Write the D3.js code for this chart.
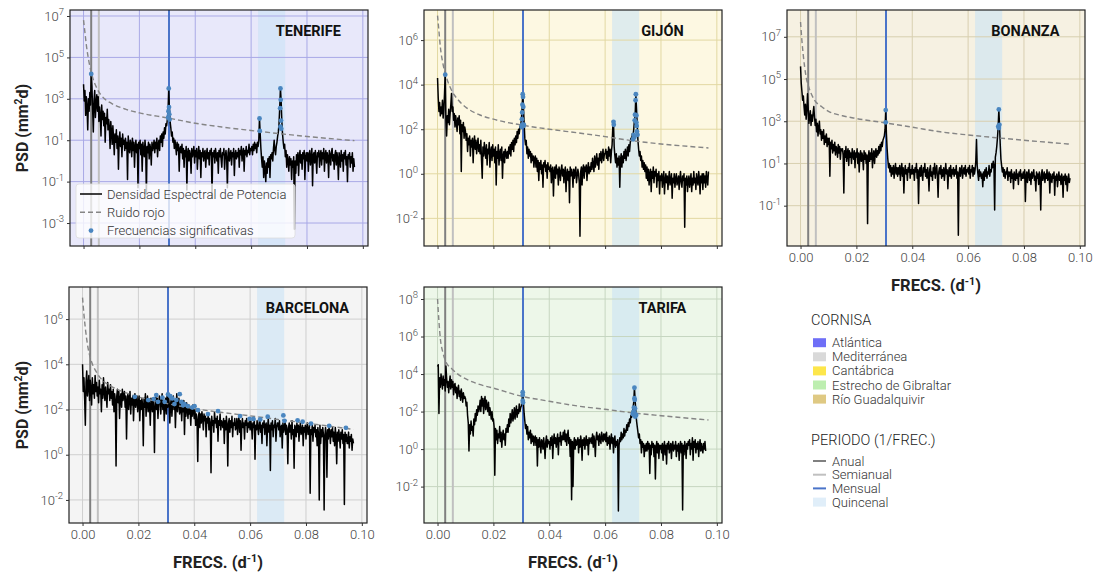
<!DOCTYPE html>
<meta charset="utf-8" />
<head>
  <script src="https://cdn.jsdelivr.net/npm/d3@7/dist/d3.min.js"></script>
  <title>PSD cornisas</title>
  <style>
    body {
      margin: 0;
      background: #fff;
    }
    svg text {
      font-family: Roboto, "Noto Sans", sans-serif;
    }
    .axis .domain {
      display: none;
    }
    .axis .tick line {
      stroke: #333;
    }
    .axis .tick text {
      font-size: 13px;
      font-weight: 300;
      fill: #444;
    }
  </style>
</head>
<body>
  <svg id="chart" width="1096" height="576"></svg>
</body>

<script>
  // frequency grid of the periodograms (d^-1)
  const freqStep = 0.00025;
  const xTicks = [0, 0.02, 0.04, 0.06, 0.08, 0.1];

  // reference periods, as frequencies
  const anual = 1 / 365.25;
  const semianual = 1 / 182.6;
  const mensual = 0.0306;
  const quincenal = [0.0625, 0.0722];

  // log10(PSD), one value per freqStep (20 per row = 0.005 d^-1)
  const psdTenerife = [
    3.7, 2.9, 3.4, 2.2, 3.1, 2.6, 1.5, 3.0, 2.4, 3.3, 2.7, 4.2, 3.6, 2.5, 1.4, 2.9, 3.4, 2.1, 2.8, 3.2,
    2.4, 3.1, 1.9, 2.6, 2.2, 1.2, 2.7, 2.0, 2.4, 1.7, 2.3, 0.9, 2.1, 1.8, 2.5, 1.5, 2.0, 1.6, 0.6, 1.9,
    1.4, 0.8, 1.7, 1.1, 0.3, 1.3, 0.9, 1.5, 0.6, 1.2, -0.4, 1.0, 1.4, 0.7, 1.1, 0.2, 1.3, 0.8, 1.0, 0.5,
    1.1, 0.6, 0.9, -0.9, 1.2, 0.7, 0.4, 1.0, 0.8, 0.2, 1.1, 0.5, 0.9, -0.3, 0.7, 1.0, 0.4, 0.8, -1.3, 0.9,
    0.6, 1.0, 0.3, 0.8, -0.5, 0.9, 0.5, 0.2, 1.0, 0.6, -1.6, 0.7, 0.4, 0.9, 0.1, 0.8, 0.6, -0.2, 0.9, 0.5,
    0.7, 1.0, 0.4, 0.9, 0.6, 1.1, 0.2, 0.8, 1.0, 0.5, 1.2, 0.9, 1.3, 0.7, 1.4, 1.1, 1.6, 1.3, 1.8, 1.7,
    2.0, 2.4, 3.5, 2.5, 1.9, 1.6, 1.2, 1.4, 0.9, 1.1, 0.6, 1.0, 0.7, 0.3, 0.9, 0.5, 0.8, -0.5, 0.6, 0.7,
    0.4, 0.8, 0.1, 0.6, -0.3, 0.5, 0.2, 0.7, -1.4, 0.4, 0.6, 0.0, 0.5, 0.3, -0.6, 0.6, 0.2, 0.4, 0.7, -0.1,
    0.5, 0.2, 0.6, -0.4, 0.3, 0.7, 0.1, 0.5, -0.8, 0.4, 0.2, 0.6, 0.0, 0.4, 0.5, -0.3, 0.3, 0.6, 0.1, 0.4,
    -0.2, 0.5, 0.3, 0.6, -1.8, 0.4, 0.2, 0.5, -0.1, 0.6, 0.3, 0.0, 0.4, -0.6, 0.5, 0.2, 0.6, 0.1, -0.3, 0.4,
    0.3, 0.6, -0.4, 0.2, 0.5, 0.1, -1.3, 0.4, 0.6, 0.0, 0.3, 0.5, -0.2, 0.4, 0.2, 0.6, -0.7, 0.3, 0.5, 0.1,
    0.4, 0.2, 0.6, -0.3, 0.5, 0.3, 0.7, 0.0, 0.4, 0.6, -0.5, 0.5, 0.3, 0.7, 0.2, 0.5, 0.4, 0.8, 0.3, 0.6,
    0.5, 0.7, 0.3, 0.8, 0.5, 0.9, 0.6, 0.8, 0.4, 0.9, 0.7, 1.0, 2.05, 1.3, 0.6, 0.1, -0.3, 0.2, -0.8, 0.0,
    -0.4, -1.0, -0.1, -0.6, 0.1, -0.3, 0.2, -0.8, 0.3, 0.1, 0.4, 0.0, 0.6, 1.0, 0.5, 0.3, 0.7, 0.9, 1.2, 1.4,
    1.8, 2.6, 3.5, 2.9, 1.9, 1.3, 0.9, 0.6, 0.8, 0.2, 0.5, -0.3, 0.3, 0.0, -0.5, 0.2, -0.2, 0.1, -0.9, 0.0,
    -0.3, 0.2, -3.3, 0.0, -0.6, 0.3, -0.2, 0.4, -0.7, 0.2, 0.5, -0.1, 0.3, -0.4, 0.4, 0.1, 0.5, -0.9, 0.2, 0.4,
    0.0, 0.4, -0.5, 0.3, 0.5, -0.2, 0.2, 0.6, -1.2, 0.3, 0.4, -0.1, 0.5, 0.1, -0.6, 0.4, 0.2, 0.5, -0.3, 0.3,
    0.5, -0.2, 0.4, 0.1, 0.6, -0.5, 0.3, 0.5, -0.1, 0.4, 0.2, -0.8, 0.5, 0.3, -0.2, 0.4, 0.6, 0.0, 0.3, -0.4,
    0.3, 0.5, -0.2, 0.4, 0.1, -0.9, 0.4, 0.2, -0.3, 0.5, 0.0, 0.3, -0.5, 0.4, 0.1, 0.5, -0.2, 0.2, -1.0, 0.3,
    0.1, 0.4, -0.3, 0.2, -0.1, 0.4, -0.5, 0.1, -0.3,
  ];
  const psdGijon = [
    4.3, 3.4, 2.8, 3.2, 2.6, 3.0, 2.7, 3.3, 2.5, 2.9, 3.6, 4.45, 2.4, 1.7, 2.6, 2.3, 2.9, 2.2, 2.7, 3.1,
    3.6, 2.8, 3.0, 2.4, 2.7, 2.1, 2.6, 2.3, 1.9, 2.5, 2.2, 2.6, 1.8, 2.4, 0.1, 2.2, 1.9, 2.3, 1.6, 2.1,
    1.9, 1.5, 1.8, 1.0, 1.6, 1.3, 1.7, 0.8, 1.5, 1.2, 1.6, 0.5, 1.4, 1.7, 1.1, 1.5, 0.9, 1.3, 1.6, 1.0,
    1.3, 0.9, 1.5, 0.6, -0.2, 1.2, 0.8, 1.4, 1.0, 0.7, 1.3, 0.4, 1.1, 0.9, 1.4, 0.3, 1.0, 1.2, 0.6, 1.3,
    0.8, 1.1, 0.5, 1.2, -0.5, 1.0, 0.7, 1.3, 0.4, 0.9, 1.1, 0.6, 1.2, -0.2, 0.8, 1.0, 0.5, 1.1, 0.9, 0.7,
    1.0, 0.7, 1.2, 0.9, 1.3, 0.8, 1.4, 1.1, 1.5, 1.0, 1.6, 1.3, 1.7, 1.4, 1.9, 1.6, 2.0, 1.8, 2.1, 2.2,
    2.4, 2.9, 3.57, 3.0, 2.3, 1.6, 1.3, 1.5, 0.9, 1.2, 0.7, 1.1, 0.8, 1.0, 0.5, 0.9, 0.6, 0.8, 0.3, 0.7,
    0.8, 0.3, 0.7, 0.1, 0.6, -0.3, 0.5, 0.2, 0.6, 0.0, 0.4, -0.6, 0.5, 0.3, 0.6, 0.1, 0.4, -0.2, 0.5, 0.2,
    0.3, 0.1, 0.4, -0.4, 0.2, 0.3, -1.0, 0.1, 0.3, -0.2, 0.4, 0.0, 0.2, -0.5, 0.3, 0.1, -0.3, 0.2, 0.4, -0.1,
    0.2, -0.4, 0.1, 0.3, -0.8, 0.0, 0.2, -0.3, 0.1, -1.3, 0.3, -0.1, 0.2, 0.0, -0.6, 0.2, -0.2, 0.1, 0.3, -0.4,
    -0.1, 0.2, 0.0, -0.4, -2.8, 0.1, 0.3, -0.5, 0.2, 0.4, -0.2, 0.3, 0.1, 0.4, -0.3, 0.2, 0.5, 0.0, 0.3, 0.1,
    0.5, 0.2, 0.7, 0.4, 0.1, 0.8, 0.3, 0.6, 0.9, 0.4, 0.7, 0.2, 0.9, 0.6, 1.0, 0.5, 0.8, 1.1, 0.6, 0.9,
    0.9, 1.1, 0.7, 1.0, 0.6, 1.2, 0.8, 1.1, 0.5, 1.0, 1.3, 2.1, 2.33, 1.2, 0.8, 0.5, 0.9, 0.3, 0.7, 0.4,
    0.8, -0.6, 0.6, 0.9, 0.3, 0.8, 0.5, 1.0, 0.7, 1.1, 0.6, 0.9, 1.2, 0.8, 1.3, 1.0, 1.4, 1.6, 1.5, 1.8,
    1.7, 2.0, 2.4, 2.6, 3.57, 2.9, 2.2, 1.5, 1.1, 0.8, 1.0, 0.6, 0.8, 0.3, 0.6, 0.2, 0.5, 0.1, 0.4, -0.2,
    0.3, -0.3, 0.2, -0.5, 0.0, 0.2, -0.8, 0.1, -0.2, 0.3, -0.4, 0.1, -0.1, 0.2, -0.6, 0.0, -0.3, 0.1, -0.9, -0.1,
    -0.3, 0.0, -0.6, -0.2, 0.1, -0.9, -0.3, 0.0, -0.4, -0.1, -0.7, -0.2, 0.1, -0.5, -0.3, 0.0, -1.1, -0.2, -0.4, 0.0,
    -0.6, -0.2, 0.0, -0.5, -0.3, -0.1, -0.7, -0.2, 0.1, -0.4, -0.6, -0.1, -0.3, 0.0, -2.4, -0.2, -0.5, -0.1, -0.8, -0.3,
    -0.1, -0.6, -0.3, 0.0, -0.8, -0.2, -0.5, 0.1, -0.4, -0.2, -0.7, 0.0, -0.3, -0.5, 0.1, -0.2, -0.9, -0.1, -0.4, 0.0,
    -0.7, 0.0, -0.4, -0.1, -0.6, 0.1, -0.3, -0.5, 0.1,
  ];
  const psdBonanza = [
    5.6, 4.8, 4.4, 4.0, 4.2, 3.7, 3.3, 3.8, 3.1, 3.5, 4.3, 3.6, 2.9, 3.2, 3.5, 2.8, 3.3, 3.0, 3.4, 3.7,
    3.2, 2.8, 3.1, 2.5, 2.9, 2.3, 2.7, 3.0, 2.4, 2.6, 2.1, 2.5, 2.2, 2.6, 1.9, 2.3, 2.0, 2.4, 1.8, 2.2,
    1.9, 2.2, 0.4, 2.0, 1.7, 2.1, 1.5, 1.9, 1.6, 2.0, 1.4, 1.8, 1.7, 1.3, 1.9, 1.5, 1.8, 1.2, 1.7, 1.6,
    1.7, 1.4, -0.4, 1.6, 1.3, 1.8, 1.1, 1.5, 1.7, 0.9, 1.6, 1.3, 1.5, 1.0, 1.7, 1.4, 1.2, 1.6, 0.8, 1.5,
    1.3, 1.7, 1.0, 1.5, 0.6, 1.4, 1.6, 1.1, 1.5, 1.3, 0.7, 1.6, 1.2, 1.5, 1.0, 1.4, -1.85, 1.3, 1.6, 1.1,
    1.5, 1.2, 1.7, 0.8, 1.4, 1.6, 1.0, 1.5, 1.7, 1.3, 1.6, 1.4, 1.8, 1.5, 1.9, 1.6, 2.0, 1.8, 2.1, 2.2,
    2.3, 2.6, 3.53, 2.4, 1.7, 1.2, 0.8, 1.0, 0.6, 0.9, 0.4, 0.8, 0.5, 0.9, 0.3, 0.7, 1.0, 0.5, 0.8, 0.4,
    0.8, 0.5, 0.9, 0.2, 0.7, 1.0, 0.4, 0.8, -0.4, 0.6, 0.9, 0.5, 0.7, 0.2, 0.8, 0.6, 1.0, 0.3, 0.7, 0.5,
    0.9, 0.5, 0.7, 0.2, 0.8, 0.6, 1.0, 0.3, 0.7, -0.9, 0.6, 0.8, 0.4, 0.9, 0.5, 0.2, 0.8, 0.6, 1.0, 0.4,
    0.7, 0.3, 0.8, 0.5, -0.3, 0.7, 0.9, 0.4, 0.6, 0.2, 0.8, 0.5, 1.0, 0.3, 0.7, 0.9, 0.4, -0.6, 0.6, 0.8,
    0.5, 0.9, 0.3, 0.7, 0.4, 0.8, 0.2, 0.6, 1.0, 0.5, 0.7, -0.2, 0.6, 0.8, 0.4, 0.9, 0.3, 0.7, 0.5, 0.8,
    0.4, 0.7, 0.5, 0.9, 0.3, 0.6, -2.4, 0.5, 0.8, 0.4, 0.7, 0.9, 0.3, 0.6, 0.8, 0.5, 0.9, 0.4, 0.7, 0.6,
    0.8, 0.5, 0.9, 0.3, 0.7, 0.6, 0.9, 0.4, 0.8, 0.5, 0.7, 1.1, 2.13, 0.9, 0.5, 0.2, 0.7, 0.4, 0.6, 0.3,
    0.5, -0.1, 0.6, 0.2, 0.7, 0.4, 0.8, 0.3, 0.6, 0.5, 0.9, 0.4, 0.7, 0.6, 1.0, 0.8, 1.1, 0.9, -1.2, 1.3,
    1.5, 1.8, 2.2, 2.7, 3.56, 2.8, 1.9, 1.2, 0.9, 0.6, 0.8, 0.4, 0.7, 0.3, 0.6, 0.5, 0.8, 0.2, 0.6, 0.4,
    0.6, 0.1, 0.7, 0.3, 0.5, -0.2, 0.6, 0.4, 0.2, 0.7, 0.3, 0.5, 0.0, 0.6, 0.4, 0.7, 0.2, 0.5, 0.3, 0.6,
    0.3, 0.7, -0.8, 0.4, 0.6, 0.1, 0.5, 0.7, 0.2, 0.5, 0.0, 0.6, 0.3, 0.5, 0.7, 0.2, 0.4, -0.3, 0.6, 0.3,
    0.5, 0.0, 0.6, 0.3, -1.2, 0.5, 0.7, 0.2, 0.4, 0.6, 0.1, 0.5, 0.3, 0.7, 0.2, 0.4, 0.6, -0.4, 0.5, 0.3,
    0.1, 0.5, 0.3, 0.6, -0.5, 0.4, 0.2, 0.5, -0.1, 0.3, 0.6, 0.2, 0.4, 0.0, 0.5, 0.3, -0.6, 0.4, 0.2, 0.5,
    0.0, 0.4, -0.3, 0.2, 0.5, 0.1, 0.3,
  ];
  const psdBarcelona = [
    4.0, 2.8, 3.4, 2.5, 1.3, 3.2, 3.7, 2.6, 3.0, 3.5, 2.4, 3.3, 2.9, 2.2, 3.4, 2.7, 3.1, 2.5, 3.5, 2.8,
    3.2, 2.6, 3.0, 2.3, 3.3, 2.7, 2.9, 1.9, 3.1, 2.5, 3.4, 2.8, 2.4, 3.0, 2.6, 2.1, 3.2, 2.7, 2.9, 2.4,
    3.1, 2.5, 2.8, 2.2, 2.9, 1.9, 2.7, 2.4, -0.5, 2.6, 2.9, 2.3, 2.8, 1.6, 2.5, 2.7, 2.1, 2.9, 2.4, 2.6,
    2.8, 2.1, 2.6, 0.7, 2.4, 2.7, 2.0, 2.5, 2.8, 1.8, 2.5, 2.2, 2.6, 1.5, 2.4, 2.7, 2.1, 2.3, 2.6, 1.9,
    2.3, 2.6, 1.5, 2.4, 2.0, 2.5, 2.2, 0.4, 2.5, 2.1, 2.7, 1.7, 2.3, 2.6, 1.9, 2.4, 2.2, 1.3, 2.5, 2.3,
    1.9, 2.4, 2.1, 0.1, 2.3, 2.6, 2.0, 2.5, 1.6, 2.2, 2.6, 2.4, 1.8, 2.3, 2.7, 2.0, 2.4, 1.5, 2.2, 2.5,
    1.8, 2.6, 2.1, 2.7, 2.3, 1.4, 2.2, 2.5, 1.7, 2.3, 2.6, 2.0, 2.4, 1.2, 2.2, 2.7, 1.9, 2.3, 2.5, 1.8,
    2.0, 2.3, 1.5, 2.2, 1.9, 2.4, 0.9, 2.1, 1.7, 2.3, 2.0, 1.6, 2.2, 1.8, 2.1, 1.3, 2.0, 1.7, 2.2, 1.9,
    1.6, 2.0, 1.3, 1.8, 1.5, -0.3, 1.7, 1.9, 1.2, 1.8, 1.4, 1.9, 1.6, 1.1, 1.8, 1.5, 1.7, 0.8, 1.6, 1.4,
    1.8, 1.1, 1.6, 1.4, -0.8, 1.7, 1.3, 1.5, 1.0, 1.9, 1.4, 1.6, 1.2, 1.7, 0.6, 1.5, 1.3, 1.8, 1.1, 1.5,
    1.4, 1.2, 1.6, 0.5, 1.5, 1.1, 1.7, 1.3, -0.5, 1.4, 1.6, 1.0, 1.5, 1.2, 1.7, 0.8, 1.4, 1.3, 1.6, 1.1,
    1.2, 1.6, 0.9, 1.4, 1.7, 1.0, 1.5, 0.2, 1.3, 1.6, 1.2, 1.4, 0.7, 1.5, 1.3, 1.6, 1.0, 1.4, 1.2, 1.5,
    1.1, 1.5, 1.3, 0.7, 1.4, 1.2, 1.6, -0.2, 1.3, 1.1, 1.5, 1.2, 0.9, 1.4, 1.6, 1.0, 1.3, 0.5, 1.4, 1.2,
    1.5, 0.9, 1.3, 1.4, 0.4, 1.2, 1.6, 1.0, 1.3, -0.7, 1.4, 1.1, 1.5, 0.8, 1.3, 1.2, 1.6, 0.6, 1.2, 1.4,
    1.4, 1.1, 1.5, 0.8, 1.2, 1.3, 0.3, 1.4, 1.0, 1.2, 1.5, 0.9, 1.3, 1.1, -0.4, 1.2, 1.4, 1.0, 1.3, 0.7,
    1.5, 0.9, 1.1, -0.6, 1.3, 1.2, 0.8, 1.4, 1.0, 1.3, 0.6, 1.2, 1.4, 0.9, 1.1, 1.3, 0.4, 1.2, 1.0, 1.3,
    0.7, 1.2, 1.4, 0.9, 1.1, 1.3, -1.7, 1.1, 0.9, 1.3, 0.6, 1.2, 1.0, 1.3, 0.8, 1.1, 0.4, 1.2, 0.9, -2.0,
    1.3, 0.5, 1.1, 0.8, 1.2, 0.9, -2.45, 0.8, 1.2, 0.9, -1.0, 1.1, 0.7, 1.2, 1.0, 0.5, 1.1, 0.8, 1.2, 0.6,
    1.0, 0.4, 1.2, 0.8, -0.4, 1.0, 0.6, 1.1, 0.8, 0.3, 1.0, 0.7, 1.1, 0.5, 0.9, -2.2, 1.0, 0.6, 0.9, 0.5,
    0.5, 1.0, 0.3, 0.8, 0.6, 0.9, 0.2, 0.7, 0.5,
  ];
  const psdTarifa = [
    4.4, 4.5, 1.9, 3.8, 3.3, 4.0, 3.6, 3.2, 3.9, 3.4, 3.7, 3.1, 4.43, 3.8, 3.3, 3.6, 3.0, 3.5, 3.9, 3.2,
    3.7, 3.3, 3.6, 2.9, 3.4, 3.5, 3.0, 3.3, 2.7, 3.2, 3.4, 2.8, 3.1, 2.6, 3.2, 2.9, 2.5, 3.0, 2.7, 2.8,
    2.7, 2.3, 2.5, 1.8, 1.4, -0.1, 1.3, 0.8, 1.5, 1.0, 1.2, 0.7, 1.6, 1.3, 1.9, 1.5, 2.1, 1.8, 2.3, 2.0,
    2.2, 2.6, 2.0, 2.8, 2.3, 2.7, 1.9, 2.5, 2.8, 2.1, 2.6, 2.3, 2.0, 2.5, 1.8, 2.2, 1.9, 1.6, 2.0, 1.5,
    1.6, 1.2, -1.4, 1.1, 0.5, 1.0, 0.3, 0.8, 0.6, 1.2, 0.4, 0.9, 0.1, 0.7, 1.0, 0.5, 0.8, 0.2, 1.1, 0.9,
    1.3, 0.9, 1.6, 1.2, 1.9, 1.4, 1.7, 2.1, 1.5, 1.8, 2.2, 1.6, 2.0, 2.3, 1.7, 2.1, 1.9, 2.4, 2.0, 2.2,
    2.3, 2.6, 3.0, 2.5, 1.9, 1.5, 1.1, 1.3, 0.8, 1.2, 0.5, 0.9, 0.6, 1.0, 0.3, 0.8, 0.4, 0.7, 0.2, 0.6,
    0.7, 0.2, 0.6, -0.9, 0.5, 0.1, 0.6, 0.3, -0.2, 0.5, 0.4, 0.0, 0.6, 0.2, -0.5, 0.4, 0.7, 0.1, 0.5, 0.3,
    0.4, 0.0, 0.6, 0.2, 0.7, -0.5, 0.4, 0.8, 0.3, 0.6, 0.1, 0.5, 0.8, -0.3, 0.6, 0.4, 0.9, 0.2, 0.7, 0.5,
    0.9, 0.5, 1.0, 0.4, 0.8, 0.2, 0.7, 1.0, 0.3, 0.6, -0.4, 0.5, -2.7, 0.4, -2.0, 0.3, 0.6, 0.0, 0.5, 0.2,
    0.3, 0.6, -0.2, 0.5, 0.1, 0.7, 0.4, -0.6, 0.5, 0.2, 0.6, 0.0, 0.4, 0.7, 0.2, 0.5, -0.3, 0.6, 0.3, 0.5,
    0.6, 0.3, 0.8, 0.1, 0.7, 0.4, -0.4, 0.6, 0.9, 0.5, 0.7, 0.2, 0.8, 0.5, 0.3, 0.9, 0.6, 0.4, 0.8, 0.5,
    0.8, 0.4, 0.9, 0.2, 0.6, 0.3, 0.7, 0.0, 0.5, 0.8, 0.3, 0.6, -0.2, 0.5, 0.7, 0.1, 0.4, 0.2, 0.5, -3.3,
    0.2, 0.6, 0.4, 0.9, 0.5, 0.8, 0.6, 1.1, 0.7, 1.0, 0.9, 1.3, 1.0, 1.4, 1.2, 1.6, 1.4, 1.8, 1.7, 2.0,
    2.2, 2.5, 3.27, 2.6, 2.0, 1.5, 1.2, 0.9, 0.6, 0.8, 0.3, 0.5, -0.2, 0.4, 0.1, 0.3, -0.4, 0.2, -0.1, 0.3,
    -0.1, 0.4, 0.0, 0.3, -1.3, 0.2, -0.3, 0.4, 0.1, 0.3, -0.4, 0.2, -1.6, 0.1, 0.4, -0.2, 0.3, -0.5, 0.2, 0.0,
    0.2, -0.2, 0.3, -0.6, 0.1, 0.4, -0.3, 0.2, -0.8, 0.3, 0.0, 0.4, -0.2, 0.1, 0.3, -0.5, 0.2, 0.4, -0.1, 0.2,
    0.0, 0.4, -0.4, 0.2, -0.1, 0.3, -0.6, 0.1, 0.4, -0.2, 0.3, -3.25, 0.2, -0.3, 0.4, 0.1, -0.5, 0.3, 0.0, 0.4,
    0.2, 0.5, -0.3, 0.3, 0.0, 0.6, -0.6, 0.4, 0.1, 0.5, -0.2, 0.3, 0.0, 0.4, -0.4, 0.2, 0.5, -0.1, 0.3, 0.0,
    -0.2, 0.3, 0.0, 0.4, -0.1,
  ];

  // red noise spectra, log10(PSD) at these frequencies
  const redFreqs = [0, 0.0005, 0.001, 0.002, 0.003, 0.005, 0.0075, 0.01, 0.015, 0.02, 0.03, 0.04, 0.05, 0.06, 0.07, 0.08, 0.097];
  const redTenerife = [6.8, 6.2, 5.6, 4.75, 4.15, 3.45, 3.0, 2.78, 2.5, 2.32, 2.08, 1.82, 1.63, 1.47, 1.32, 1.18, 0.98];
  const redGijon = [7.1, 6.4, 5.7, 4.9, 4.4, 3.75, 3.3, 3.0, 2.65, 2.45, 2.19, 2.0, 1.84, 1.67, 1.48, 1.34, 1.16];
  const redBonanza = [7.7, 6.8, 6.1, 5.1, 4.6, 4.0, 3.7, 3.47, 3.26, 3.13, 2.93, 2.72, 2.5, 2.35, 2.22, 2.1, 1.91];
  const redBarcelona = [6.95, 6.2, 5.6, 4.7, 4.2, 3.65, 3.25, 3.05, 2.76, 2.56, 2.27, 2.04, 1.87, 1.72, 1.56, 1.4, 1.12];
  const redTarifa = [8.0, 6.8, 5.9, 5.1, 4.65, 4.3, 3.97, 3.75, 3.45, 3.25, 2.82, 2.55, 2.3, 2.12, 1.93, 1.78, 1.55];

  // significant frequencies [freq, log10(PSD)]
  const sigTenerife = [
    [0.00275, 4.2], [0.0305, 3.5], [0.0306, 2.6], [0.0304, 2.4], [0.0307, 2.25], [0.0303, 2.1], [0.0308, 2.0],
    [0.063, 2.05], [0.0631, 1.45],
    [0.0705, 3.5], [0.0706, 2.95], [0.0704, 2.55], [0.0707, 1.95], [0.0705, 1.65], [0.0708, 1.55],
  ];
  const sigGijon = [
    [0.00275, 4.45], [0.0305, 3.57], [0.0306, 3.45], [0.0304, 3.1], [0.0307, 3.0], [0.0303, 2.75],
    [0.0302, 2.45], [0.0303, 2.2], [0.0309, 2.2], [0.0308, 2.15], [0.0301, 2.1],
    [0.063, 2.33], [0.0631, 2.2],
    [0.071, 3.57], [0.0709, 3.3], [0.0707, 2.65], [0.0712, 2.62], [0.0706, 2.4], [0.0712, 2.3],
    [0.0713, 2.15], [0.0714, 1.9], [0.0702, 1.75], [0.07, 1.55], [0.0716, 1.75], [0.0705, 1.65],
  ];
  const sigBonanza = [
    [0.0305, 3.53], [0.0305, 2.95], [0.071, 3.56], [0.0712, 2.83], [0.0708, 2.75], [0.071, 2.68],
  ];
  const sigBarcelona = [
    [0.0187, 2.56], [0.0235, 2.42], [0.0255, 2.46], [0.0264, 2.64], [0.027, 2.34], [0.0286, 2.53],
    [0.0294, 2.34], [0.0306, 2.67], [0.0314, 2.59], [0.0321, 2.49], [0.0329, 2.24], [0.0336, 2.42],
    [0.0348, 2.68], [0.0354, 2.34], [0.036, 2.19], [0.0365, 2.24], [0.0377, 2.15], [0.0393, 2.09],
    [0.0401, 2.15], [0.0413, 1.97], [0.0449, 1.8], [0.0485, 1.93], [0.0564, 1.71], [0.0598, 1.59],
    [0.0612, 1.58], [0.0636, 1.56], [0.0663, 1.68], [0.0719, 1.74], [0.0723, 1.5], [0.077, 1.52],
    [0.0788, 1.46], [0.0818, 1.38], [0.0883, 1.28], [0.0943, 1.19],
  ];
  const sigTarifa = [
    [0.0305, 3.03], [0.0305, 2.88], [0.0305, 2.58], [0.0306, 2.48],
    [0.0705, 3.27], [0.0705, 2.71], [0.0706, 2.62], [0.0703, 2.21], [0.0707, 2.17], [0.0702, 2.0],
    [0.0705, 1.94], [0.0699, 1.87], [0.0711, 1.82], [0.0703, 1.82], [0.0708, 1.73],
  ];

  // y tick exponents
  const yTicksTenerife = [-3, -1, 1, 3, 5, 7];
  const yTicksGijon = [-2, 0, 2, 4, 6];
  const yTicksBonanza = [-1, 1, 3, 5, 7];
  const yTicksBarcelona = [-2, 0, 2, 4, 6];
  const yTicksTarifa = [-2, 0, 2, 4, 6, 8];

  const legendNames = ["Densidad Espectral de Potencia", "Ruido rojo", "Frecuencias significativas"];
  const cornisaNames = ["Atlántica", "Mediterránea", "Cantábrica", "Estrecho de Gibraltar", "Río Guadalquivir"];
  const periodoNames = ["Anual", "Semianual", "Mensual", "Quincenal"];

  const cornisaColors = ["#6f6ff7", "#d9d9d9", "#fde64b", "#bdeeb0", "#dfc983"];
  const periodoColors = ["#808080", "#c0c0c0", "#4a74c9", "#e0eef9"];

  const svg = d3.select("#chart");
  const W = 298,
    H = 236;
  const xDomain = [-0.00485, 0.10185];

  const panels = [
    { id: "ten", name: "TENERIFE", psd: psdTenerife, red: redTenerife, sig: sigTenerife, yTicks: yTicksTenerife, yLim: [-4.11, 7.29], left: 70, top: 10, bg: "#e8e8fa", grid: "#a9a9e6", xText: false, yTitle: true, legend: true },
    { id: "gij", name: "GIJÓN", psd: psdGijon, red: redGijon, sig: sigGijon, yTicks: yTicksGijon, yLim: [-3.24, 7.35], left: 424, top: 10, bg: "#fdf8e2", grid: "#e2d8a2", xText: false },
    { id: "bon", name: "BONANZA", psd: psdBonanza, red: redBonanza, sig: sigBonanza, yTicks: yTicksBonanza, yLim: [-2.91, 8.27], left: 787, top: 10, bg: "#f6f1e2", grid: "#d8cfb0", xText: true },
    { id: "bar", name: "BARCELONA", psd: psdBarcelona, red: redBarcelona, sig: sigBarcelona, yTicks: yTicksBarcelona, yLim: [-3.02, 7.42], left: 69, top: 287, bg: "#f4f4f4", grid: "#cfcfcf", xText: true, yTitle: true },
    { id: "tar", name: "TARIFA", psd: psdTarifa, red: redTarifa, sig: sigTarifa, yTicks: yTicksTarifa, yLim: [-3.94, 8.64], left: 424, top: 287, bg: "#edf7e9", grid: "#c6d6c0", xText: true },
  ];

  // text with a superscript part
  const supText = (sel, base, sup, tail) => {
    sel.append("tspan").text(base);
    sel.append("tspan").attr("dy", "-6px").attr("font-size", "0.65em").text(sup);
    sel.append("tspan").attr("dy", "6px").text(tail);
  };

  panels.forEach((p) => {
    const g = svg.append("g").attr("transform", `translate(${p.left},${p.top})`);
    const x = d3.scaleLinear().domain(xDomain).range([0, W]);
    const y = d3
      .scaleLog()
      .domain([10 ** p.yLim[0], 10 ** p.yLim[1]])
      .range([H, 0]);

    g.append("clipPath").attr("id", "clip-" + p.id).append("rect").attr("width", W).attr("height", H);

    g.append("rect").attr("width", W).attr("height", H).attr("fill", p.bg);

    // quincenal band
    g.append("rect")
      .attr("x", x(quincenal[0]))
      .attr("width", x(quincenal[1]) - x(quincenal[0]))
      .attr("height", H)
      .attr("fill", "#c6e2f5")
      .attr("opacity", 0.55);

    // grid
    const grid = g.append("g").attr("stroke", p.grid).attr("stroke-width", 1);
    grid.selectAll(".gx")
      .data(xTicks)
      .join("line")
      .attr("x1", (d) => x(d))
      .attr("x2", (d) => x(d))
      .attr("y2", H);
    grid.selectAll(".gy")
      .data(p.yTicks)
      .join("line")
      .attr("x2", W)
      .attr("y1", (d) => y(10 ** d))
      .attr("y2", (d) => y(10 ** d));

    const plot = g.append("g").attr("clip-path", `url(#clip-${p.id})`);

    // period lines
    [
      [anual, periodoColors[0]],
      [semianual, periodoColors[1]],
      [mensual, periodoColors[2]],
    ].forEach(([f, c]) => {
      plot.append("line")
        .attr("x1", x(f))
        .attr("x2", x(f))
        .attr("y2", H)
        .attr("stroke", c)
        .attr("stroke-width", 2);
    });

    const line = d3
      .line()
      .x((d, i) => x(i * freqStep))
      .y((d) => y(10 ** d));

    plot.append("path")
      .datum(p.psd)
      .attr("fill", "none")
      .attr("stroke", "#000")
      .attr("stroke-width", 1.5)
      .attr("stroke-linejoin", "round")
      .attr("d", line);

    const redLine = d3
      .line()
      .curve(d3.curveMonotoneX)
      .x((d, i) => x(redFreqs[i]))
      .y((d) => y(10 ** d));

    plot.append("path")
      .datum(p.red)
      .attr("fill", "none")
      .attr("stroke", "#858585")
      .attr("stroke-width", 1.4)
      .attr("stroke-dasharray", "5,3")
      .attr("d", redLine);

    plot.selectAll("circle")
      .data(p.sig)
      .join("circle")
      .attr("cx", (d) => x(d[0]))
      .attr("cy", (d) => y(10 ** d[1]))
      .attr("r", 2.4)
      .attr("fill", "#4a86c0");

    // frame
    g.append("rect")
      .attr("width", W)
      .attr("height", H)
      .attr("fill", "none")
      .attr("stroke", "#222")
      .attr("stroke-width", 1.2);

    // axes
    const xAxis = d3
      .axisBottom(x)
      .tickValues(xTicks)
      .tickSize(3)
      .tickPadding(4)
      .tickFormat(p.xText ? d3.format(".2f") : () => "");
    g.append("g").attr("class", "axis").attr("transform", `translate(0,${H})`).call(xAxis);

    const yAxis = d3
      .axisLeft(y)
      .tickValues(p.yTicks.map((e) => 10 ** e))
      .tickSize(3)
      .tickPadding(3)
      .tickFormat(() => "10");
    const gy = g.append("g").attr("class", "axis").call(yAxis);
    gy.selectAll(".tick text")
      .data(p.yTicks)
      .append("tspan")
      .attr("dy", "-0.55em")
      .attr("font-size", "9.5px")
      .text((e) => e);

    // station name
    g.append("text")
      .attr("x", W * 0.8)
      .attr("y", 26)
      .attr("text-anchor", "middle")
      .attr("font-size", "14.5px")
      .attr("font-weight", 700)
      .attr("fill", "#111")
      .text(p.name);

    if (p.xText) {
      g.append("text")
        .attr("x", W / 2)
        .attr("y", H + 45)
        .attr("text-anchor", "middle")
        .attr("font-size", "16.5px")
        .attr("font-weight", 700)
        .attr("fill", "#222")
        .call(supText, "FRECS. (d", "-1", ")");
    }

    if (p.yTitle) {
      g.append("text")
        .attr("transform", `translate(${22 - p.left},${H / 2}) rotate(-90)`)
        .attr("text-anchor", "middle")
        .attr("dy", "0.35em")
        .attr("font-size", "16px")
        .attr("font-weight", 700)
        .attr("fill", "#222")
        .call(supText, "PSD (mm", "2", "d)");
    }

    if (p.legend) {
      const lg = g.append("g").attr("transform", `translate(6,${H - 62})`);
      lg.append("rect")
        .attr("width", 219)
        .attr("height", 54)
        .attr("rx", 3)
        .attr("fill", "#fff")
        .attr("fill-opacity", 0.78)
        .attr("stroke", "#ddd")
        .attr("stroke-width", 0.8);
      const rows = lg
        .selectAll(".row")
        .data(legendNames)
        .join("g")
        .attr("transform", (d, i) => `translate(0,${10 + i * 18.3})`);
      rows.append("text")
        .attr("x", 31)
        .attr("dy", "0.35em")
        .attr("font-size", "13px")
        .attr("font-weight", 300)
        .attr("fill", "#333")
        .text((d) => d);
      rows.filter((d, i) => i === 0)
        .append("line")
        .attr("x1", 4)
        .attr("x2", 26)
        .attr("stroke", "#000")
        .attr("stroke-width", 1.5);
      rows.filter((d, i) => i === 1)
        .append("line")
        .attr("x1", 4)
        .attr("x2", 26)
        .attr("stroke", "#858585")
        .attr("stroke-width", 1.4)
        .attr("stroke-dasharray", "5,3");
      rows.filter((d, i) => i === 2)
        .append("circle")
        .attr("cx", 15)
        .attr("r", 2.4)
        .attr("fill", "#4a86c0");
    }
  });

  // side legend
  const side = svg.append("g").attr("transform", "translate(811,0)");
  side.append("text")
    .attr("y", 325)
    .attr("font-size", "14.5px")
    .attr("font-weight", 300)
    .attr("fill", "#222")
    .text("CORNISA");
  const cRows = side
    .selectAll(".crow")
    .data(cornisaNames)
    .join("g")
    .attr("transform", (d, i) => `translate(0,${342.7 + i * 14.1})`);
  cRows.append("rect")
    .attr("x", 2)
    .attr("y", -4.5)
    .attr("width", 13)
    .attr("height", 9)
    .attr("fill", (d, i) => cornisaColors[i]);
  cRows.append("text")
    .attr("x", 21)
    .attr("dy", "0.35em")
    .attr("font-size", "13px")
    .attr("font-weight", 300)
    .attr("fill", "#333")
    .text((d) => d);

  side.append("text")
    .attr("y", 445)
    .attr("font-size", "14.5px")
    .attr("font-weight", 300)
    .attr("fill", "#222")
    .text("PERIODO (1/FREC.)");
  const pRows = side
    .selectAll(".prow")
    .data(periodoNames)
    .join("g")
    .attr("transform", (d, i) => `translate(0,${461 + i * 13.7})`);
  pRows.filter((d, i) => i < 3)
    .append("line")
    .attr("x1", 2)
    .attr("x2", 15)
    .attr("stroke", (d, i) => periodoColors[i])
    .attr("stroke-width", 2);
  pRows.filter((d, i) => i === 3)
    .append("rect")
    .attr("x", 2)
    .attr("y", -4.5)
    .attr("width", 13)
    .attr("height", 9)
    .attr("fill", periodoColors[3]);
  pRows.append("text")
    .attr("x", 21)
    .attr("dy", "0.35em")
    .attr("font-size", "13px")
    .attr("font-weight", 300)
    .attr("fill", "#333")
    .text((d) => d);
</script>
